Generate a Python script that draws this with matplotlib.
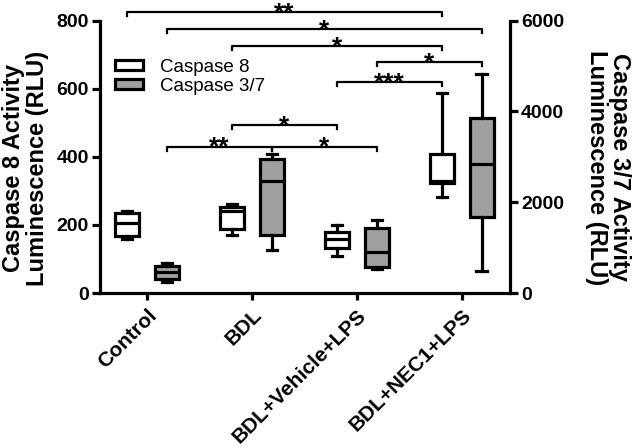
import matplotlib
matplotlib.use('Agg')
import matplotlib.pyplot as plt
from matplotlib.patches import Patch

plt.rcParams['font.family'] = ['Liberation Sans', 'DejaVu Sans']

groups = ['Control', 'BDL', 'BDL+Vehicle+LPS', 'BDL+NEC1+LPS']

# Caspase 8 (left axis, RLU): whisker low, q1, median, q3, whisker high
casp8_lo = [160, 171, 109, 283]
casp8_q1 = [168, 188, 132, 323]
casp8_med = [205, 241, 158, 329]
casp8_q3 = [236, 253, 180, 409]
casp8_hi = [242, 262, 200, 589]

# Caspase 3/7 (right axis, RLU)
casp37_lo = [243, 949, 523, 492]
casp37_q1 = [309, 1280, 580, 1670]
casp37_med = [463, 2471, 898, 2846]
casp37_q3 = [596, 2956, 1441, 3867]
casp37_hi = [662, 3066, 1610, 4831]

# significance brackets: (left group, left series, right group, right series, height on left axis, label)
# series 0 = Caspase 8, 1 = Caspase 3/7
brackets = [
    (0, 0, 3, 0, 826, '**'),
    (0, 1, 3, 1, 776, '*'),
    (1, 0, 3, 0, 726, '*'),
    (2, 1, 3, 1, 679, '*'),
    (2, 0, 3, 0, 620, '***'),
    (1, 0, 2, 0, 494, '*'),
    (0, 1, 1, 1, 430, '**'),
    (1, 1, 2, 1, 430, '*'),
]

gray = '#a0a0a0'
offset = 0.19
bw = 0.23
lw = 2.3


def stats(lo, q1, med, q3, hi):
    return [dict(whislo=a, q1=b, med=c, q3=d, whishi=e, fliers=[])
            for a, b, c, d, e in zip(lo, q1, med, q3, hi)]


fig = plt.figure(figsize=(6.32, 4.47), dpi=100)
ax = fig.add_axes([0.158, 0.3445, 0.649, 0.6092])
ax2 = ax.twinx()

x = list(range(len(groups)))
line_kw = dict(color='black', linewidth=lw)

ax.bxp(stats(casp8_lo, casp8_q1, casp8_med, casp8_q3, casp8_hi),
       positions=[i - offset for i in x], widths=bw, capwidths=0.1,
       patch_artist=True, showfliers=False,
       boxprops=dict(facecolor='white', edgecolor='black', linewidth=lw),
       medianprops=line_kw, whiskerprops=line_kw, capprops=line_kw)

ax2.bxp(stats(casp37_lo, casp37_q1, casp37_med, casp37_q3, casp37_hi),
        positions=[i + offset for i in x], widths=bw, capwidths=0.1,
        patch_artist=True, showfliers=False,
        boxprops=dict(facecolor=gray, edgecolor='black', linewidth=lw),
        medianprops=line_kw, whiskerprops=line_kw, capprops=line_kw)

ax.set_xlim(-0.45, 3.46)
ax.set_ylim(0, 800)
ax2.set_ylim(0, 6000)
ax.set_yticks([0, 200, 400, 600, 800])
ax2.set_yticks([0, 2000, 4000, 6000])
ax.set_xticks(x)
ax.set_xticklabels(groups, rotation=45, ha='right', rotation_mode='anchor',
                   fontsize=15, fontweight='bold')

for a in (ax, ax2):
    a.spines['top'].set_visible(False)
    for s in a.spines.values():
        s.set_linewidth(lw)
    a.tick_params(axis='y', width=lw, length=6, labelsize=14, pad=2)
    for lab in a.get_yticklabels():
        lab.set_fontweight('bold')
ax.tick_params(axis='x', width=lw, length=5, pad=4)
ax2.spines['left'].set_visible(False)
ax2.spines['bottom'].set_visible(False)
ax.spines['right'].set_visible(False)

fig.text(0.040, 0.624, 'Caspase 8 Activity\nLuminescence (RLU)', rotation=90,
         ha='center', va='center', fontsize=17, fontweight='bold',
         linespacing=1.05, multialignment='center')
fig.text(0.962, 0.626, 'Caspase 3/7 Activity\nLuminescence (RLU)', rotation=270,
         ha='center', va='center', fontsize=17, fontweight='bold',
         linespacing=1.05, multialignment='center')

drop = 13
for g1, s1, g2, s2, h, label in brackets:
    x1 = g1 + (offset if s1 else -offset)
    x2 = g2 + (offset if s2 else -offset)
    ax.plot([x1, x1, x2, x2], [h - drop, h, h, h - drop], color='black',
            linewidth=1.6, clip_on=False, zorder=5)
    ax.text((x1 + x2) / 2, h - 24, label, ha='center', va='baseline',
            fontsize=19, fontweight='bold', clip_on=False)

handles = [Patch(facecolor='white', edgecolor='black', linewidth=lw),
           Patch(facecolor=gray, edgecolor='black', linewidth=lw)]
ax.legend(handles, ['Caspase 8', 'Caspase 3/7'], loc='upper left',
          bbox_to_anchor=(0.037, 0.86), frameon=False, fontsize=13.5,
          handlelength=1.5, handleheight=0.43, handletextpad=0.9,
          labelspacing=0.1, borderpad=0, borderaxespad=0)

fig.savefig('out.png', dpi=100)
